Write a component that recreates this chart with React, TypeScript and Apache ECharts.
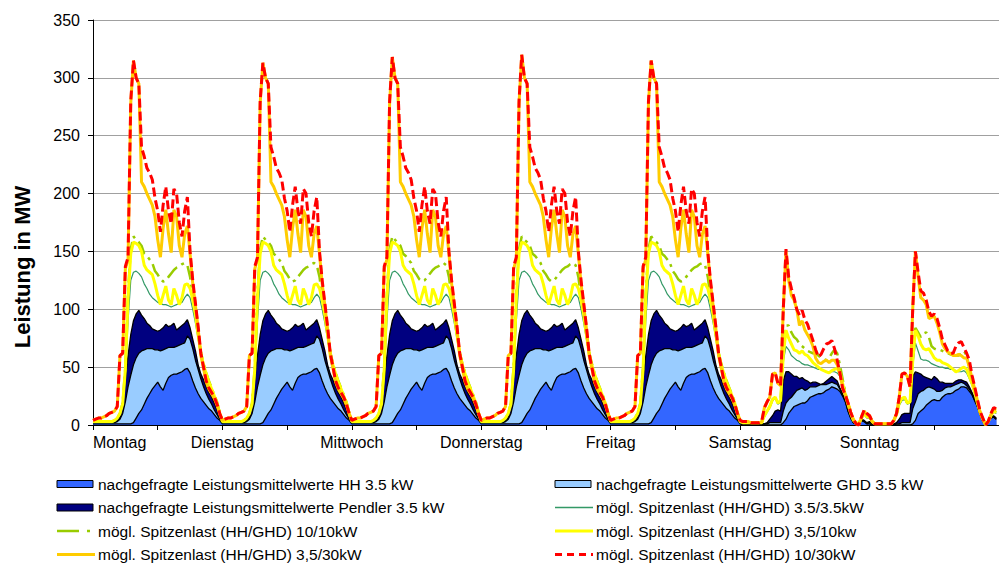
import React, { useEffect, useRef } from 'react';
import * as echarts from 'echarts';

// ---------- DATA (half-hour steps, 48 values per day) ----------
const DAY_LABELS = ['Montag', 'Dienstag', 'Mittwoch', 'Donnerstag', 'Freitag', 'Samstag', 'Sonntag'];
const Y_MIN = 0;
const Y_MAX = 350;
const Y_STEP = 50;

const SERIES_NAMES = [
  'nachgefragte Leistungsmittelwerte HH 3.5 kW',
  'nachgefragte Leistungsmittelwerte GHD 3.5 kW',
  'nachgefragte Leistungsmittelwerte Pendler 3.5 kW',
  'mögl. Spitzenlast (HH/GHD) 3.5/3.5kW',
  'mögl. Spitzenlast (HH/GHD) 10/10kW',
  'mögl. Spitzenlast (HH/GHD) 3,5/10kw',
  'mögl. Spitzenlast (HH/GHD) 3,5/30kW',
  'mögl. Spitzenlast (HH/GHD) 10/30kW',
];

// Morning peak of the 10/30 and 3,5/30 curves, Monday..Friday
const WEEKDAY_PEAKS = [315, 313, 318, 320, 315];
const WEEKDAY_PEAK_SLOT = 15;

// Cumulative tops of the stacked demand areas (HH, HH+GHD, HH+GHD+Pendler)
const wdHh = [1,1,1,1,1,1,1,1,1,1, 1,1,1,1,1,2,6,10,13,18, 23,27,31,34,37,33,30,36,41,43, 44,44,45,46,48,49,45,38,32,27, 23,20,17,14,12,9,6,4];
const wdGhd = [2,2,2,2,2,2,2,2,2,3, 5,10,20,33,43,52,58,62,64,65, 66,66,66,65,65,64,65,66,67,67, 67,68,69,70,71,77,74,66,56,48, 40,33,27,22,18,13,9,5];
const wdTotal = [3,3,3,3,3,3,3,3,3,4, 7,20,40,60,78,90,96,99,95,92, 88,86,83,82,81,82,84,87,85,86, 88,82,84,86,88,91,84,74,64,52, 44,39,33,28,24,19,13,7];
const wdTeal = [2,2,2,2,2,2,2,2,3,5, 9,17,42,90,125,132,133,131,128,122, 118,113,110,108,106,105,104,104,103,102, 103,104,105,106,110,113,110,100,88,74, 60,50,42,35,29,23,17,9];
const wdGreen = [3,3,3,3,3,3,3,3,4,6, 10,19,50,115,152,163,160,158,155,148, 146,143,140,133,130,126,124,125,128,131, 134,136,137,139,140,138,128,110,96,79, 63,53,45,38,32,26,20,11];
const wdYellow = [3,3,3,3,3,3,3,3,4,6, 10,18,48,110,148,158,157,155,150,138, 134,132,130,122,112,104,112,120,108,104, 118,112,104,110,121,122,118,108,95,78, 62,52,44,37,31,25,19,10];
const wdOrange = [4,5,6,6,7,8,10,11,12,16, 60,62,135,143,278,315,300,295,210,206, 200,195,190,180,160,145,170,186,165,149, 186,180,155,145,165,172,148,122,103,83, 60,49,37,31,27,23,17,10];
const wdRed = [4,5,6,6,7,8,10,11,12,16, 60,62,137,145,280,315,300,295,240,232, 222,218,212,196,185,167,190,206,185,174, 204,200,175,163,185,197,150,125,105,85, 62,50,38,32,28,24,18,10];

const satHh = [1,0,0,0,0,0,0,0,0,0, 0,0,0,0,0,0,2,5,10,13, 16,17,18,19,19,21,24,25,26,27, 27,28,30,31,33,32,31,29,25,20, 12,6,2,1,2,4,3,1];
const satGhd = [2,1,1,1,1,1,1,1,1,1, 1,2,2,2,2,2,12,19,22,24, 27,30,31,32,30,31,33,33,33,34, 35,35,35,36,37,36,35,31,26,21, 12,6,2,1,2,4,3,1];
const satTotal = [3,2,1,1,1,1,1,1,1,1, 2,5,8,12,13,12,38,46,46,44, 42,42,40,41,39,38,36,37,37,36, 35,36,38,40,42,40,38,32,27,21, 13,7,2,1,2,5,4,2];
const satTeal = [2,2,2,2,2,2,2,2,2,7, 11,15,21,23,18,20,55,68,65,60, 58,56,55,53,52,52,51,50,49,48, 48,47,46,46,46,46,45,42,34,24, 17,9,4,2,1,5,9,6];
const satGreen = [3,2,2,2,2,2,2,2,2,8, 12,16,22,24,19,21,62,86,86,80, 76,74,70,68,66,64,63,62,62,60, 58,57,56,58,62,65,62,52,40,28, 19,11,4,2,1,6,10,7];
const satYellow = [3,2,2,2,2,2,2,2,2,8, 12,16,22,24,19,21,60,82,75,70, 65,64,62,64,61,60,57,54,52,50, 48,47,46,45,47,48,49,45,36,26, 18,10,4,2,1,6,10,7];
const satOrange = [4,3,3,3,2,2,2,2,3,15, 20,24,44,45,36,34,100,150,125,112, 108,100,86,90,82,78,74,68,58,54, 53,55,56,54,56,56,52,45,32,26, 19,11,5,1,0,7,12,9];
const satRed = [4,3,3,3,2,2,2,2,3,15, 20,24,44,45,36,34,100,152,128,118, 110,100,95,99,91,87,80,73,65,59, 61,66,70,71,73,66,56,45,32,26, 19,11,5,1,0,7,13,10];

const sunHh = [1,0,0,0,0,0,0,0,0,0, 0,0,0,0,0,0,1,4,10,12, 14,17,19,21,22,21,21,24,26,27, 27,28,30,31,33,33,32,29,26,21, 16,9,3,1,3,6,7,5];
const sunGhd = [2,1,0,0,0,0,0,0,0,0, 1,1,2,2,2,2,14,20,27,29, 30,32,33,32,31,29,29,30,32,33, 33,34,35,36,37,36,34,31,27,21, 16,9,3,1,3,6,7,5];
const sunTotal = [3,2,1,1,1,1,1,1,1,1, 2,5,9,10,10,10,42,46,45,44, 42,41,40,39,42,40,37,37,36,36, 36,36,38,39,39,38,37,33,28,23, 16,9,4,1,3,7,8,6];
const sunTeal = [6,3,1,1,1,1,1,1,1,3, 8,17,21,22,18,19,50,71,64,57, 56,56,55,53,52,51,50,50,49,49, 48,48,47,46,46,47,45,40,34,26, 18,10,4,1,3,7,11,10];
const sunGreen = [7,3,1,1,1,1,1,1,1,4, 9,19,23,24,19,20,58,84,80,76, 79,80,76,68,66,65,65,64,63,62, 61,61,60,60,62,64,60,50,40,30, 20,11,5,1,3,8,12,11];
const sunYellow = [7,3,1,1,1,1,1,1,1,4, 9,19,23,24,19,20,55,82,77,70, 66,65,66,62,58,56,56,54,53,52, 50,48,46,47,49,50,48,42,36,28, 19,11,5,1,3,8,12,11];
const sunOrange = [8,3,1,1,1,1,1,1,1,4, 10,24,44,45,42,33,100,150,128,110, 108,104,92,93,94,88,80,70,66,63, 62,60,60,61,60,58,58,50,40,31, 21,11,5,0,3,9,14,13];
const sunRed = [8,3,1,1,1,1,1,1,1,4, 10,24,44,45,42,33,100,150,132,116, 114,108,98,94,96,92,84,74,69,64, 62,62,68,71,72,67,62,56,43,33, 22,12,6,0,3,10,15,14];

// ---------- helpers ----------
function buildWeek(wd: number[], sat: number[], sun: number[], peaks?: number[]) {
  const out: [number, number][] = [];
  for (let d = 0; d < 7; d++) {
    const prof = d < 5 ? wd : d === 5 ? sat : sun;
    prof.forEach((v, t) => {
      let val = v;
      if (peaks && d < 5 && t === WEEKDAY_PEAK_SLOT) val = peaks[d];
      out.push([d * 24 + t * 0.5, val]);
    });
  }
  return out;
}

const FONT = 'Liberation Sans, Arial, sans-serif';

const COL = {
  hh: '#3366ff',
  ghd: '#99ccff',
  pendler: '#000080',
  teal: '#339966',
  green: '#99cc00',
  yellow: '#ffff00',
  orange: '#ffcc00',
  red: '#ff0000',
};

const GREEN_DASH = [14, 5, 3, 5];
const RED_DASH = [9, 4];

export default function App() {
  const ref = useRef<HTMLDivElement>(null);

  useEffect(() => {
    document.body.style.margin = '0';
    if (!ref.current) return;
    const chart = echarts.init(ref.current, undefined, { renderer: 'svg' });

    const area = (name: string, data: any, fill: string) => ({
      type: 'line',
      name,
      data,
      symbol: 'none',
      showSymbol: false,
      lineStyle: { color: '#000', width: 1.3 },
      itemStyle: { color: fill },
      areaStyle: { color: fill, opacity: 1 },
      z: 2,
    });
    const line = (name: string, data: any, color: string, width: number, type: any) => ({
      type: 'line',
      name,
      data,
      symbol: 'none',
      showSymbol: false,
      lineStyle: { color, width, type },
      itemStyle: { color },
      z: 3,
    });

    // legend drawn as graphic elements (two columns)
    const legendRows = [484, 507.5, 531, 554.5];
    const leftX = 57;
    const rightX = 555;
    const iconW = 36;
    const legendItems: any[] = [
      { col: 0, row: 0, name: SERIES_NAMES[0], kind: 'rect', color: COL.hh },
      { col: 1, row: 0, name: SERIES_NAMES[1], kind: 'rect', color: COL.ghd },
      { col: 0, row: 1, name: SERIES_NAMES[2], kind: 'rect', color: COL.pendler },
      { col: 1, row: 1, name: SERIES_NAMES[3], kind: 'line', color: COL.teal, width: 1.5, dash: null },
      { col: 0, row: 2, name: SERIES_NAMES[4], kind: 'line', color: COL.green, width: 2.5, dash: [22, 8, 3, 8] },
      { col: 1, row: 2, name: SERIES_NAMES[5], kind: 'line', color: COL.yellow, width: 3, dash: null },
      { col: 0, row: 3, name: SERIES_NAMES[6], kind: 'line', color: COL.orange, width: 3, dash: null },
      { col: 1, row: 3, name: SERIES_NAMES[7], kind: 'line', color: COL.red, width: 3, dash: [7, 5] },
    ];
    const legendGraphics: any[] = [];
    legendItems.forEach((it) => {
      const x0 = it.col === 0 ? leftX : rightX;
      const y = legendRows[it.row];
      if (it.kind === 'rect') {
        legendGraphics.push({
          type: 'rect',
          shape: { x: x0, y: y - 3.5, width: iconW, height: 7 },
          style: { fill: it.color, stroke: '#000', lineWidth: 1 },
        });
      } else {
        legendGraphics.push({
          type: 'line',
          shape: { x1: x0, y1: y, x2: x0 + iconW + 2, y2: y },
          style: { stroke: it.color, lineWidth: it.width, lineDash: it.dash || undefined },
        });
      }
      legendGraphics.push({
        type: 'text',
        x: x0 + iconW + 5,
        y,
        style: {
          text: it.name,
          fill: '#000',
          font: `15.5px ${FONT}`,
          textAlign: 'left',
          textVerticalAlign: 'middle',
        },
      });
    });

    const option: any = {
      animation: false,
      backgroundColor: '#fff',
      textStyle: { fontFamily: FONT },
      grid: { left: 93, top: 20, width: 912, height: 405, containLabel: false },
      xAxis: {
        type: 'value',
        min: 0,
        max: 168,
        interval: 12,
        axisLine: { show: true, lineStyle: { color: '#000', width: 1 } },
        axisTick: { show: true, length: 5, lineStyle: { color: '#000' } },
        splitLine: { show: false },
        axisLabel: {
          color: '#000',
          fontSize: 16,
          fontFamily: FONT,
          margin: 9,
          alignMinLabel: 'left',
          showMaxLabel: false,
          formatter: (v: number) => (v % 24 === 0 && v < 168 ? DAY_LABELS[v / 24] : ''),
        },
      },
      yAxis: {
        type: 'value',
        min: Y_MIN,
        max: Y_MAX,
        interval: Y_STEP,
        axisLine: { show: true, lineStyle: { color: '#000', width: 1 } },
        axisTick: { show: true, length: 5, lineStyle: { color: '#000' } },
        splitLine: { show: true, lineStyle: { color: '#a0a0a0', width: 1.2 } },
        axisLabel: { color: '#000', fontSize: 16, fontFamily: FONT, margin: 13 },
      },
      series: [
        area(SERIES_NAMES[2], buildWeek(wdTotal, satTotal, sunTotal), COL.pendler),
        area(SERIES_NAMES[1], buildWeek(wdGhd, satGhd, sunGhd), COL.ghd),
        area(SERIES_NAMES[0], buildWeek(wdHh, satHh, sunHh), COL.hh),
        line(SERIES_NAMES[3], buildWeek(wdTeal, satTeal, sunTeal), COL.teal, 1.2, 'solid'),
        line(SERIES_NAMES[4], buildWeek(wdGreen, satGreen, sunGreen), COL.green, 2.5, GREEN_DASH),
        line(SERIES_NAMES[5], buildWeek(wdYellow, satYellow, sunYellow), COL.yellow, 3, 'solid'),
        line(SERIES_NAMES[6], buildWeek(wdOrange, satOrange, sunOrange, WEEKDAY_PEAKS), COL.orange, 3, 'solid'),
        line(SERIES_NAMES[7], buildWeek(wdRed, satRed, sunRed, WEEKDAY_PEAKS), COL.red, 3, RED_DASH),
      ],
      graphic: [
        {
          type: 'text',
          x: 22,
          y: 267,
          rotation: Math.PI / 2,
          style: {
            text: 'Leistung in MW',
            fill: '#000',
            font: `bold 22px ${FONT}`,
            textAlign: 'center',
            textVerticalAlign: 'middle',
          },
        },
        ...legendGraphics,
      ],
    };

    chart.setOption(option);
    return () => chart.dispose();
  }, []);

  return <div ref={ref} style={{ width: 999, height: 563 }} />;
}
